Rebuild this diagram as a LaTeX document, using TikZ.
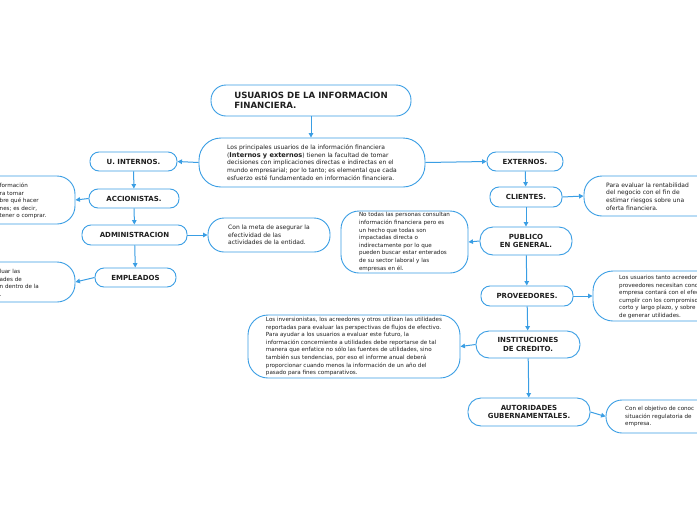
\documentclass[tikz,border=0pt]{standalone}
\usepackage{fontspec}
\setmainfont{DejaVu Sans}
\usetikzlibrary{arrows.meta}
\definecolor{bl}{HTML}{3A9EE4}
\definecolor{tx}{HTML}{1E1E1E}
\tikzset{
 box/.style={draw=bl, line width=0.9pt, fill=white, text=tx},
 lbl/.style={box, rounded corners=9pt, font=\bfseries\fontsize{7.0}{8.8}\selectfont, align=center, inner sep=0pt},
 desc/.style={box, rounded corners=18pt, font=\fontsize{5.6}{7.6}\selectfont, align=left, inner sep=0pt},
 txt/.style={text=tx, font=\fontsize{5.6}{7.6}\selectfont, align=left, inner sep=0pt},
 bigtxt/.style={font=\fontsize{6.0}{7.6}\selectfont},
 arr/.style={draw=bl, line width=1pt, -{Triangle[length=4.5pt,width=4.5pt]}}
}
\begin{document}
\begin{tikzpicture}[x=1pt,y=-1pt]
\useasboundingbox (0,0) rectangle (697,520);
\clip (0,0) rectangle (697,520);
\fill[white] (0,0) rectangle (697,520);

% title and main description
\node[box, rounded corners=15pt, minimum width=200pt, minimum height=31pt, inner sep=0pt, align=left, font=\bfseries\fontsize{8.6}{10}\selectfont] (title) at (311,100.5) {USUARIOS DE LA INFORMACION\\FINANCIERA.};
\node[desc, bigtxt, rounded corners=22pt, minimum width=226pt, minimum height=49pt] (main) at (312,162.5) {Los principales usuarios de la información financiera\\({\bfseries\fontsize{6.6}{7.6}\selectfont Internos y externos}) tienen la facultad de tomar\\decisiones con implicaciones directas e indirectas en el\\mundo empresarial; por lo tanto; es elemental que cada\\esfuerzo esté fundamentado en información financiera.};

% left column
\node[lbl, minimum width=87pt, minimum height=19pt] (uint) at (133.5,161.5) {U. INTERNOS.};
\node[lbl, minimum width=90pt, minimum height=19pt] (acc) at (134,198.5) {ACCIONISTAS.};
\node[lbl, minimum width=105pt, minimum height=20pt] (adm) at (134.5,235) {ADMINISTRACION};
\node[lbl, minimum width=81pt, minimum height=19pt] (emp) at (135.5,277.5) {EMPLEADOS};

\node[box, rounded corners=18pt, minimum width=110pt, minimum height=48pt] (accbox) at (20,200) {};
\node[txt, anchor=west] (acctxt) at (-0.5,201) {formación\\ra tomar\\bre qué hacer\\nes; es decir,\\tener o comprar.};
\node[box, rounded corners=18pt, minimum width=110pt, minimum height=40pt] (empbox) at (20,282) {};
\node[txt, anchor=west] (emptxt) at (-0.5,283) {luar las\\ades de\\n dentro de la\\.};

\node[desc, bigtxt, rounded corners=16pt, minimum width=122pt, minimum height=34pt] (meta) at (269,235) {Con la meta de asegurar la\\efectividad de las\\actividades de la entidad.};

% right column
\node[lbl, minimum width=76pt, minimum height=19pt] (ext) at (525,161.5) {EXTERNOS.};
\node[lbl, minimum width=72pt, minimum height=20pt] (cli) at (526,197) {CLIENTES.};
\node[lbl, rounded corners=13pt, minimum width=92pt, minimum height=28pt] (pub) at (526,241) {PUBLICO\\EN GENERAL.};
\node[lbl, minimum width=92pt, minimum height=20pt] (prov) at (527,296) {PROVEEDORES.};
\node[lbl, rounded corners=13pt, minimum width=104pt, minimum height=27pt] (inst) at (528,344.5) {INSTITUCIONES\\DE CREDITO.};
\node[lbl, rounded corners=13pt, minimum width=122pt, minimum height=28pt] (aut) at (529,412) {AUTORIDADES\\GUBERNAMENTALES.};

\node[desc, minimum width=127pt, minimum height=62pt] (notodas) at (404.5,242) {No todas las personas consultan\\información financiera pero es\\un hecho que todas son\\impactadas directa o\\indirectamente por lo que\\pueden buscar estar enterados\\de su sector laboral y las\\empresas en él.};
\node[desc, rounded corners=20pt, minimum width=212pt, minimum height=63pt] (inver) at (354,346.5) {Los inversionistas, los acreedores y otros utilizan las utilidades\\reportadas para evaluar las perspectivas de flujos de efectivo.\\Para ayudar a los usuarios a evaluar este futuro, la\\información concerniente a utilidades debe reportarse de tal\\manera que enfatice no sólo las fuentes de utilidades, sino\\también sus tendencias, por eso el informe anual deberá\\proporcionar cuando menos la información de un año del\\pasado para fines comparativos.};

\node[box, rounded corners=18pt, minimum width=140pt, minimum height=40pt] (parabox) at (654,196) {};
\node[txt, bigtxt, anchor=west] (paratxt) at (606,196.5) {Para evaluar la rentabilidad\\del negocio con el fin de\\estimar riesgos sobre una\\oferta financiera.};
\node[box, rounded corners=20pt, minimum width=140pt, minimum height=50pt] (provbox) at (663,296) {};
\node[txt, anchor=west] (provtxt) at (619,297) {Los usuarios tanto acreedore\\proveedores necesitan cono\\empresa contará con el efec\\cumplir con los compromiso\\corto y largo plazo, y sobre\\de generar utilidades.};
\node[box, rounded corners=16pt, minimum width=140pt, minimum height=33pt] (autbox) at (676,416.5) {};
\node[txt, anchor=west] (auttxt) at (625,416.5) {Con el objetivo de conoc\\situación regulatoria de\\empresa.};

% connectors
\draw[arr] (title.south) -- (title.south |- main.north);
\draw[arr] (main.east) -- (ext.west);
\draw[arr] (main.west) -- (uint.east);
\draw[arr] (uint) -- (acc);
\draw[arr] (acc) -- (adm);
\draw[arr] (adm) -- (emp);
\draw[arr] (acc.west) -- (accbox.east);
\draw[arr] (adm.east) -- (meta.west);
\draw[arr] (emp.west) -- (empbox.east);
\draw[arr] (ext) -- (cli);
\draw[arr] (cli.east) -- (parabox.west);
\draw[arr] (cli) -- (pub);
\draw[arr] (pub.west) -- (notodas.east);
\draw[arr] (pub) -- (prov);
\draw[arr] (prov.east) -- (provbox.west);
\draw[arr] (prov) -- (inst);
\draw[arr] (inst.west) -- (inver.east);
\draw[arr] (inst) -- (aut);
\draw[arr] (aut.east) -- (autbox.west);
\end{tikzpicture}
\end{document}
